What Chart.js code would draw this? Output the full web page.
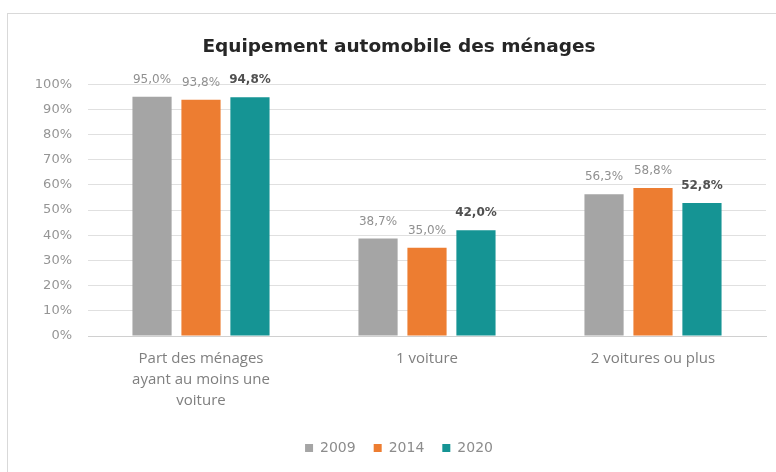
<!DOCTYPE html>
<html><head><meta charset="utf-8">
<script src="https://cdn.jsdelivr.net/npm/chart.js@4/dist/chart.umd.min.js"></script>
<style>
html,body{margin:0;padding:0;background:#fff;}
#wrap{position:absolute;left:0;top:0;width:776px;height:472px;overflow:hidden;}
#frame{position:absolute;left:7px;top:13px;width:800px;height:500px;border:1px solid #d9d9d9;box-sizing:border-box;}
#c{position:absolute;left:0;top:0;}
</style></head><body>
<div id="wrap"><div id="frame"></div><canvas id="c" width="776" height="472"></canvas></div>
<script>
const categories = [["Part des ménages","ayant au moins une","voiture"],"1 voiture","2 voitures ou plus"];
const seriesNames = ["2009","2014","2020"];
const values2009 = [95.0, 38.7, 56.3];
const values2014 = [93.8, 35.0, 58.8];
const values2020 = [94.8, 42.0, 52.8];
const yTicks = [0,10,20,30,40,50,60,70,80,90,100];

const FONT = "'DejaVu Sans', sans-serif";
const FONT2 = "'Open Sans', sans-serif";
const colors = ["#a5a5a5","#ed7d31","#159494"];
const fmt = v => v.toFixed(1).replace('.', ',') + '%';

const labelPlugin = {
  id:'vals',
  afterDatasetsDraw(chart){
    const ctx = chart.ctx;
    chart.data.datasets.forEach((ds,i)=>{
      const meta = chart.getDatasetMeta(i);
      meta.data.forEach((el,j)=>{
        ctx.save();
        ctx.textAlign='center';
        ctx.textBaseline='middle';
        if(i===2){ ctx.font = "bold 12px " + FONT; ctx.fillStyle="#505050"; }
        else { ctx.font = "12px " + FONT; ctx.fillStyle="#909090"; }
        ctx.fillText(fmt(ds.data[j]), el.x, el.y - 17);
        ctx.restore();
      });
    });
  }
};

new Chart(document.getElementById('c'), {
  type:'bar',
  data:{
    labels: categories,
    datasets:[
      {label:seriesNames[0], data:values2009, backgroundColor:colors[0]},
      {label:seriesNames[1], data:values2014, backgroundColor:colors[1]},
      {label:seriesNames[2], data:values2020, backgroundColor:colors[2]}
    ]
  },
  options:{
    responsive:false,
    animation:false,
    devicePixelRatio:1,
    layout:{padding:{top:36,left:32,right:10,bottom:7}},
    datasets:{bar:{categoryPercentage:0.65, barPercentage:0.8}},
    plugins:{
      title:{display:true, text:'Equipement automobile des ménages', color:'#262626',
        font:{family:FONT, size:18.5, weight:'bold', lineHeight:1.2}, padding:{top:0,bottom:26}},
      legend:{position:'bottom', labels:{boxWidth:8, boxHeight:8, color:'#8c8c8c',
        font:{family:FONT, size:14}, padding:18}},
      tooltip:{enabled:false}
    },
    scales:{
      y:{min:0, max:100, afterBuildTicks:(s)=>{s.ticks = yTicks.map(v=>({value:v}));},
        afterFit:(s)=>{s.width = 56;},
        ticks:{callback:v=>v+'%', color:'#959595', font:{family:FONT, size:13}, padding:16},
        grid:{color:'#e0e0e0', drawTicks:false}, border:{display:false}},
      x:{grid:{display:false, drawTicks:false}, border:{color:'#d0d0d0'},
        afterFit:(s)=>{s.height = 87;},
        ticks:{color:'#7f7f7f', font:{family:FONT2, size:15, lineHeight:1.4}, padding:12, maxRotation:0}}
    }
  },
  plugins:[labelPlugin]
});
</script>
</body></html>
